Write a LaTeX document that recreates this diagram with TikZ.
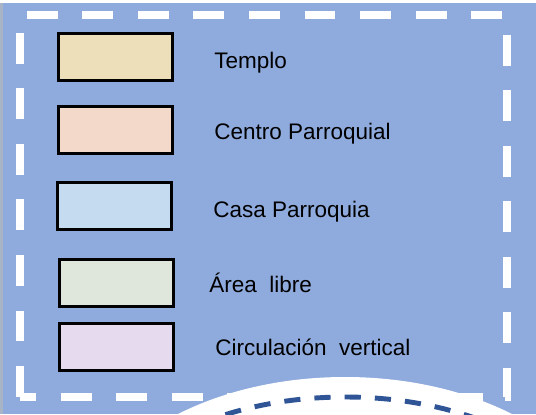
\documentclass[tikz,border=0pt]{standalone}
\usepackage{fontspec}
\setmainfont{Liberation Sans}
\usepackage{tikz}
\definecolor{fondoAzul}{HTML}{8FAADC}
\definecolor{bordeGris}{HTML}{A9B3C6}
\definecolor{azulOscuro}{HTML}{2F5597}
\definecolor{colTemplo}{HTML}{EDDFB9}
\definecolor{colCentro}{HTML}{F2D9C9}
\definecolor{colCasa}{HTML}{C5DCF0}
\definecolor{colArea}{HTML}{DFE6DB}
\definecolor{colCirc}{HTML}{E6DBEE}

\begin{document}
\begin{tikzpicture}[x=0.025cm,y=-0.025cm,
  cajaLeyenda/.style={draw=black,line width=2.2pt,minimum width=2.85cm,minimum height=1.17cm,inner sep=0pt},
  textoLeyenda/.style={anchor=base west,inner sep=0pt,font=\fontsize{16}{19}\selectfont}]
\useasboundingbox (0,0) rectangle (536,414);
\fill[fondoAzul] (0,0) rectangle (536,414);
\fill[bordeGris] (0,0) rectangle (3,414);
\fill[white] (0,0) rectangle (536,3);
% marco discontinuo
\draw[white,line width=5pt,dash pattern=on 22pt off 17.5pt]
  (20,397) -- (20,15) -- (507,15) -- (507,397) -- cycle;
% zona blanca inferior
\fill[white] (345,547) ellipse (268 and 170);
\fill[white] (453,393) rectangle (483,405);
\draw[azulOscuro,line width=3.5pt,dash pattern=on 11.5pt off 10pt] (345,547) ellipse (254 and 150);
% leyenda
\node[cajaLeyenda,fill=colTemplo] (templo) at (115.5,57) {};
\node[cajaLeyenda,fill=colCentro] (centro) at (115.5,130) {};
\node[cajaLeyenda,fill=colCasa] (casa) at (114.5,206) {};
\node[cajaLeyenda,fill=colArea] (area) at (116.5,283) {};
\node[cajaLeyenda,fill=colCirc] (circ) at (116.5,347) {};
\node[textoLeyenda] (tTemplo) at (214,68) {Templo};
\node[textoLeyenda] (tCentro) at (214,139) {Centro Parroquial};
\node[textoLeyenda] (tCasa) at (213,217) {Casa Parroquia};
\node[textoLeyenda] (tArea) at (209,292) {Área\ \ libre};
\node[textoLeyenda] (tCirc) at (215,355) {Circulación\ \ vertical};
\end{tikzpicture}
\end{document}
